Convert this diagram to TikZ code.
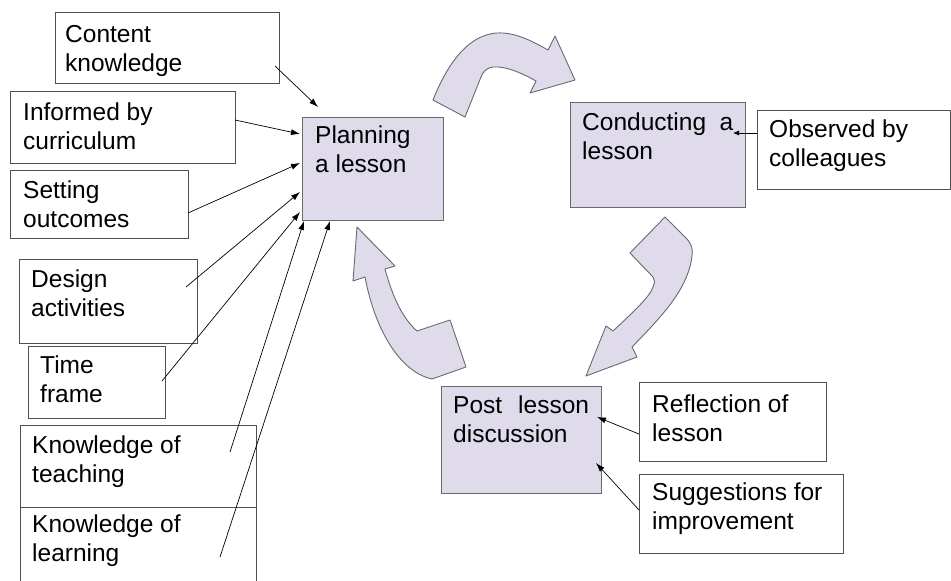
\documentclass[tikz,border=0pt]{standalone}
\usepackage{fontspec}
\setmainfont{Liberation Sans}
\usetikzlibrary{arrows.meta,calc}

\definecolor{lav}{RGB}{223,219,235}
\definecolor{edgegray}{RGB}{105,105,110}
\definecolor{boxgray}{RGB}{80,80,80}

\tikzset{
  wbox/.style={draw=boxgray, line width=0.8pt, fill=white, rectangle, inner sep=0pt, anchor=north west},
  pbox/.style={draw=edgegray, line width=0.9pt, fill=lav, rectangle, inner sep=0pt, anchor=north west},
  txt/.style={inner sep=0pt, anchor=north west, align=left, font=\fontsize{24.5}{29}\selectfont},
  feed/.style={line width=0.7pt, -{Latex[length=9pt,width=6pt]}},
  bigarrow/.style={draw=edgegray, line width=0.9pt, fill=lav, line join=round},
}

\begin{document}
\begin{tikzpicture}[x=1pt,y=-1pt]
\useasboundingbox (0,0) rectangle (951,581);
\clip (0,0) rectangle (951,581);

% the four stages of the cycle
\node[pbox, minimum width=141pt, minimum height=103pt] (plan) at (302,117) {};
\node[pbox, minimum width=175pt, minimum height=105pt] (cond) at (570,102) {};
\node[pbox, minimum width=160pt, minimum height=107pt] (post) at (441,386) {};

% inputs to planning
\node[wbox, minimum width=224pt, minimum height=71pt] (ck)   at (55,12)  {};
\node[wbox, minimum width=225pt, minimum height=72pt] (inf)  at (10,91)  {};
\node[wbox, minimum width=178pt, minimum height=68pt] (set)  at (10,170) {};
\node[wbox, minimum width=178pt, minimum height=84pt] (des)  at (19,259) {};
\node[wbox, minimum width=137pt, minimum height=72pt] (time) at (28,346) {};
\node[wbox, minimum width=236pt, minimum height=82pt] (kt)   at (20,425) {};
\node[wbox, minimum width=236pt, minimum height=90pt] (kl)   at (20,507) {};

% inputs to the other stages
\node[wbox, minimum width=193pt, minimum height=79pt] (obs)  at (757,110) {};
\node[wbox, minimum width=187pt, minimum height=79pt] (refl) at (639,382) {};
\node[wbox, minimum width=204pt, minimum height=79pt] (sugg) at (639,474) {};

% labels (first baseline 20.3pt below each anchor)
\node[txt] (plant) at (315,122.7) {\strut Planning\\a lesson};
\node[txt] (condt) at (582,109.7) {\strut Conducting\ \ a\\lesson};
\node[txt] (postt) at (453,392.7) {\strut Post\hspace{16pt}lesson\\discussion};
\node[txt] (ckt)   at (65,21.7)   {\strut Content\\knowledge};
\node[txt] (inft)  at (23,99.7)   {\strut Informed by\\curriculum};
\node[txt] (sett)  at (23,177.7)  {\strut Setting\\outcomes};
\node[txt] (dest)  at (31,266.7)  {\strut Design\\activities};
\node[txt] (timet) at (40,352.7)  {\strut Time\\frame};
\node[txt] (ktt)   at (32,432.7)  {\strut Knowledge of\\teaching};
\node[txt] (klt)   at (32,511.7)  {\strut Knowledge of\\learning};
\node[txt] (obst)  at (769,116.7) {\strut Observed by\\colleagues};
\node[txt] (reflt) at (652,391.7) {\strut Reflection of\\lesson};
\node[txt] (suggt) at (652,479.7) {\strut Suggestions for\\improvement};

% feeder lines into planning
\draw[feed] ($(ck.north west)+(220,54)$)   -- ($(plan.north west)+(16,-10)$);
\draw[feed] ($(inf.north west)+(225,29)$)  -- ($(plan.north west)+(-2,17)$);
\draw[feed] ($(set.north west)+(178,43)$)  -- ($(plan.north west)+(-2,46)$);
\draw[feed] ($(des.north west)+(167,28)$)  -- ($(plan.north west)+(-2,75)$);
\draw[feed] ($(time.north west)+(134,35)$) -- ($(plan.north west)+(-2,95)$);
\draw[feed] ($(kt.north west)+(210,27)$)   -- ($(plan.north west)+(2,104)$);
\draw[feed] ($(kl.north west)+(200,50)$)   -- ($(plan.north west)+(28,104)$);

% feeder lines into conducting and post-lesson discussion
\draw[line width=0.7pt, -{Latex[length=6pt,width=5pt]}] ($(obs.north west)+(0,23)$) -- ($(cond.north west)+(163,31)$);
\draw[feed] ($(refl.north west)+(0,52)$) -- ($(post.north west)+(156,31)$);
\draw[feed] ($(sugg.north west)+(0,36)$) -- ($(post.north west)+(155,77)$);

% curved block arrows of the cycle
% planning -> conducting
\draw[bigarrow] (433,100) .. controls (445,70) and (465,35) .. (497,33)
  .. controls (515,32) and (532,41) .. (548,50) -- (555,36) -- (575,80) -- (530,93) -- (536,81)
  .. controls (520,72) and (505,66) .. (493,67)
  .. controls (486,68) and (483,72) .. (481,77) -- (465,117) -- cycle;
% conducting -> post lesson discussion
\draw[bigarrow] (665,217) -- (686,238) .. controls (692,244) and (693,250) .. (692,256)
  .. controls (688,290) and (660,318) .. (632,347) -- (637,357) -- (586,376) -- (606,326) -- (613,331)
  .. controls (630,315) and (650,297) .. (653,287)
  .. controls (655,282) and (655,280) .. (653,277) -- (630,253) -- cycle;
% post lesson discussion -> planning
\draw[bigarrow] (357,227) -- (395,266) -- (385,269)
  .. controls (392,295) and (402,318) .. (417,331) -- (450,320) -- (466,367) -- (432,379)
  .. controls (400,372) and (375,330) .. (365,277) -- (353,281) -- cycle;
\end{tikzpicture}
\end{document}
